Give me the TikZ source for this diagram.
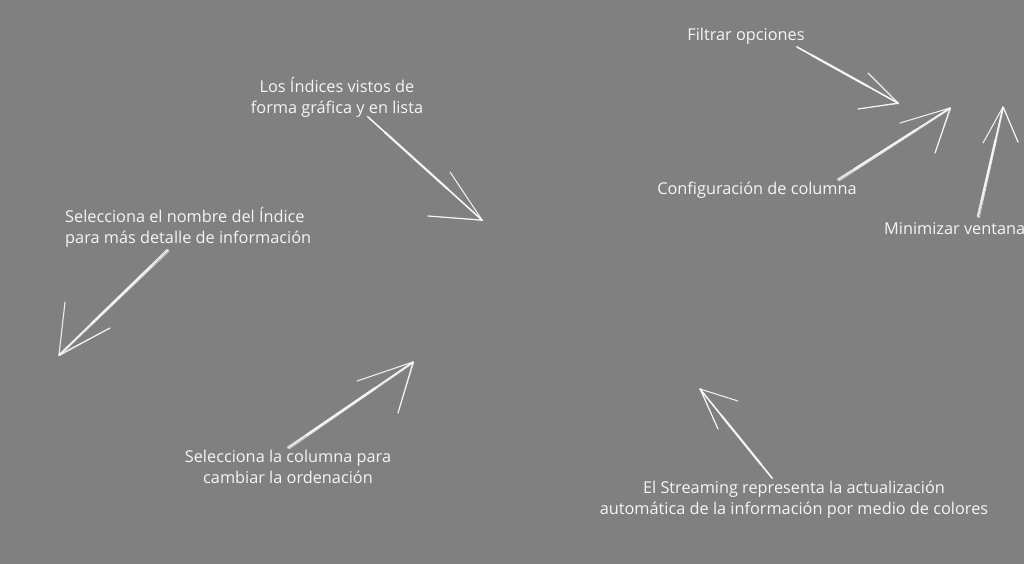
\documentclass[tikz,border=0pt]{standalone}
\usepackage{fontspec}
\setmainfont{Open Sans}
\usetikzlibrary{calc}
\begin{document}
\begin{tikzpicture}[x=1pt,y=-1pt,
  lbl/.style={text=white!96!black, font=\fontsize{16.3}{21}\selectfont, inner sep=0pt, align=center},
  chalk/.style={draw=white, line width=1.5pt, line cap=round, opacity=0.85},
  chalkthin/.style={draw=white, line width=0.7pt, line cap=round, opacity=0.7}]
\fill[fill={rgb,255:red,128;green,128;blue,128}] (0,0) rectangle (1024,564);
\useasboundingbox (0,0) rectangle (1024,564);

% labels
\node[lbl] (filtrar) at (746,36) {Filtrar opciones};
\node[lbl] (config) at (757,190) {Configuración de columna};
\node[lbl, anchor=west] (minim) at (884,229) {Minimizar ventana};
\node[lbl] (indices) at (337,97) {Los Índices vistos de\\forma gráfica y en lista};
\node[lbl, align=left, anchor=west] (nombre) at (65,227) {Selecciona el nombre del Índice\\para más detalle de información};
\node[lbl] (columna) at (288,467) {Selecciona la columna para\\cambiar la ordenación};
\node[lbl] (stream) at (794,500) {El Streaming representa la actualización\\automática de la información por medio de colores};

% arrow coordinates: tail, tip, head end a, head end b
\coordinate (t1) at (797,47);  \coordinate (p1) at (898,103); \coordinate (a1) at (868,73);  \coordinate (b1) at (858,109);
\coordinate (t2) at (838,180); \coordinate (p2) at (950,108); \coordinate (a2) at (900,123); \coordinate (b2) at (935,153);
\coordinate (t3) at (978,217); \coordinate (p3) at (1003,107); \coordinate (a3) at (983,143); \coordinate (b3) at (1018,142);
\coordinate (t4) at (368,117); \coordinate (p4) at (482,220); \coordinate (a4) at (450,172); \coordinate (b4) at (428,216);
\coordinate (t5) at (168,250); \coordinate (p5) at (59,355);  \coordinate (a5) at (65,302);  \coordinate (b5) at (110,328);
\coordinate (t6) at (288,448); \coordinate (p6) at (413,362); \coordinate (a6) at (357,381); \coordinate (b6) at (398,413);
\coordinate (t7) at (772,478); \coordinate (p7) at (700,389); \coordinate (a7) at (738,401); \coordinate (b7) at (718,429);

\foreach \i in {1,...,7}{
  \draw[chalk] (t\i) -- (p\i);
  \draw[chalk, line width=2.6pt, opacity=0.45] ($(t\i)!0.15!(p\i)$) -- ($(t\i)!0.7!(p\i)$);
  \draw[chalkthin] ([shift={(1.2,1)}]t\i) -- ([shift={(0.6,0.8)}]p\i);
  \draw[chalkthin] ([shift={(-1,-0.8)}]t\i) -- (p\i);
  \draw[chalk, line width=1.1pt] (p\i) -- (a\i);
  \draw[chalk, line width=1.1pt] (p\i) -- (b\i);
  \draw[chalkthin] ([shift={(0.8,0.6)}]p\i) -- (b\i);
}
\end{tikzpicture}
\end{document}
